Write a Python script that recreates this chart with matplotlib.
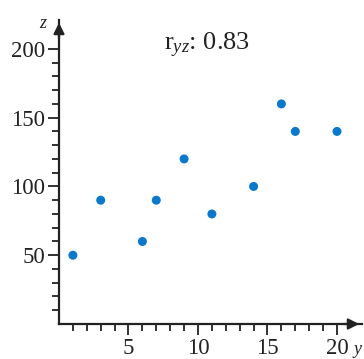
import numpy as np
import matplotlib
matplotlib.use("Agg")
import matplotlib.pyplot as plt
from matplotlib.ticker import FixedLocator

plt.rcParams["font.family"] = ["Liberation Serif", "DejaVu Serif"]
plt.rcParams["mathtext.fontset"] = "custom"
plt.rcParams["mathtext.rm"] = "Liberation Serif"
plt.rcParams["mathtext.it"] = "Liberation Serif:italic"

# Duomenys: y ir z reikšmės
y_vals = [1, 3, 6, 7, 9, 11, 14, 16, 17, 20]
z_vals = [50, 90, 60, 90, 120, 80, 100, 160, 140, 140]

x_major = [5, 10, 15, 20]
y_major = [50, 100, 150, 200]

r_yz = np.corrcoef(y_vals, z_vals)[0, 1]

fig = plt.figure(figsize=(3.64, 3.59), dpi=100)
ax = fig.add_axes([59 / 364, 35 / 359, 303 / 364, 304 / 359])

ax.scatter(y_vals, z_vals, s=42, color="#0a79cc", edgecolors="none", zorder=3)

ax.set_xlim(0, 21.8)
ax.set_ylim(0, 221)

for side in ["top", "right"]:
    ax.spines[side].set_visible(False)
for side in ["left", "bottom"]:
    ax.spines[side].set_linewidth(1.6)
    ax.spines[side].set_color("#222222")

ax.set_xticks(x_major)
ax.set_yticks(y_major)
ax.xaxis.set_minor_locator(FixedLocator([v for v in range(1, 21) if v not in x_major]))
ax.yaxis.set_minor_locator(FixedLocator([v for v in range(10, 201, 10) if v not in y_major]))

ax.tick_params(which="major", length=8, width=1.3, color="#222222",
               labelsize=16.5, pad=2, labelcolor="#222222")
ax.tick_params(which="minor", length=5, width=1.3, color="#222222")

# Rodyklės ašių galuose
arrow = dict(arrowstyle="-|>", color="#222222", lw=1.6, mutation_scale=16)
ax.annotate("", xy=(1.0, 0), xytext=(0.93, 0), xycoords="axes fraction",
            arrowprops=arrow, annotation_clip=False)
ax.annotate("", xy=(0, 1.0), xytext=(0, 0.93), xycoords="axes fraction",
            arrowprops=arrow, annotation_clip=False)

ax.text(-0.055, 0.99, "z", style="italic", fontsize=13, ha="center", va="center",
        transform=ax.transAxes, color="#222222")
ax.text(0.985, -0.085, "y", style="italic", fontsize=13, ha="center", va="center",
        transform=ax.transAxes, color="#222222")

ax.text(0.49, 0.9, r"$\mathrm{r}_{yz}$: " + f"{r_yz:.2f}", fontsize=19,
        ha="center", va="baseline", transform=ax.transAxes, color="#222222")

fig.savefig("out.png", dpi=100)
